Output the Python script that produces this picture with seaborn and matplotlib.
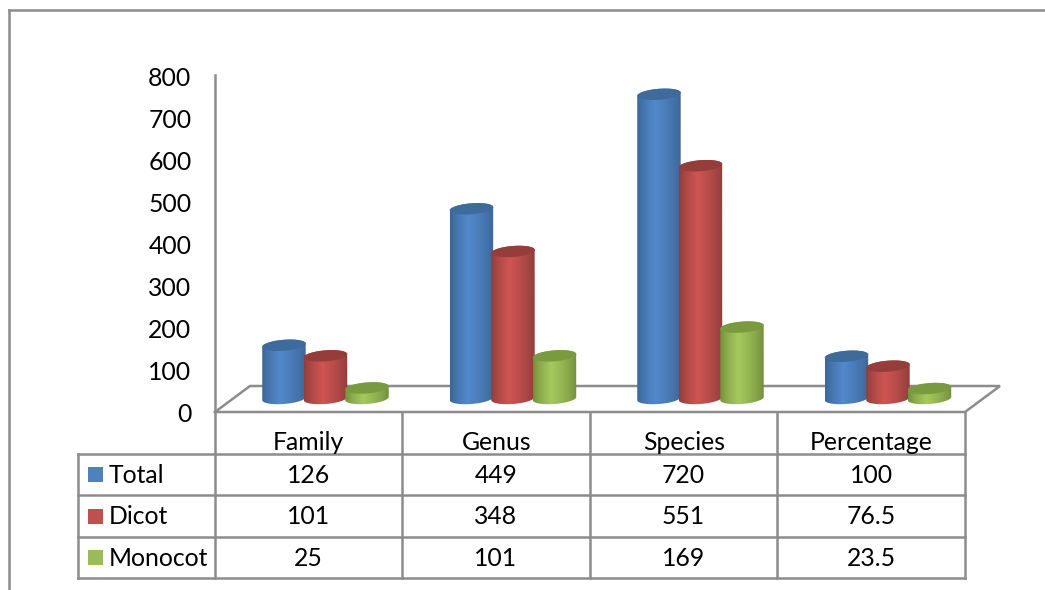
import numpy as np
import pandas as pd
import matplotlib
matplotlib.use("Agg")
import matplotlib.pyplot as plt
from matplotlib.colors import to_rgb
from matplotlib.path import Path
from matplotlib.patches import PathPatch
from matplotlib.transforms import Affine2D
import seaborn as sns

categories = ["Family", "Genus", "Species", "Percentage"]
series_names = ["Total", "Dicot", "Monocot"]
total = [126, 449, 720, 100]
dicot = [101, 348, 551, 76.5]
monocot = [25, 101, 169, 23.5]
table_labels = [["126", "449", "720", "100"],
                ["101", "348", "551", "76.5"],
                ["25", "101", "169", "23.5"]]
y_ticks = [0, 100, 200, 300, 400, 500, 600, 700, 800]

W, H = 1045, 590
GREY = "#8c8c8c"
FONT = "Lato"
FS = 17.8

# flat, edge, centre and cap tones for each series
tones = {
    "Total": ("#4f81bd", "#3b6494", "#5289cc", "#3f6a9c"),
    "Dicot": ("#c0504d", "#8e3c3a", "#cf5553", "#943d3b"),
    "Monocot": ("#9bbb59", "#708d3a", "#a6c95e", "#7a9a40"),
}

sns.set_theme(style="white")
plt.rcParams["font.family"] = FONT

fig = plt.figure(figsize=(W / 100, H / 100), dpi=100, facecolor="white")


def px_axes(left, top, right, bottom):
    return fig.add_axes([left / W, 1 - bottom / H, (right - left) / W, (bottom - top) / H])


# page layer in pixel units: frame, floor and table rules
page = px_axes(0, 0, W, H)
page.set_xlim(0, W)
page.set_ylim(H, 0)
page.axis("off")


def rule(xs, ys, lw=1.8):
    page.plot(xs, ys, color=GREY, lw=lw, solid_capstyle="projecting", solid_joinstyle="miter")


rule([9, 9], [590, 10])
rule([9, 1045], [10, 10])
rule([215, 250, 1000, 965, 215], [412, 386, 386, 412, 412])

col_x = [215, 402, 590, 777, 965]
row_y = [412, 454, 495, 537, 578]
for x in col_x:
    rule([x, x], [row_y[0], row_y[-1]])
rule([78, 78], [row_y[1], row_y[-1]])
for y in row_y[1:]:
    rule([78, 965], [y, y])

for r, name in enumerate(series_names):
    yc = (row_y[r + 1] + row_y[r + 2]) / 2
    page.fill([88, 103, 103, 88], [yc - 7.5, yc - 7.5, yc + 7.5, yc + 7.5], color=tones[name][0], lw=0)
    page.text(109, yc + 1, name, va="center", ha="left", fontsize=FS, color="black", family=FONT)
    for c in range(4):
        xc = (col_x[c] + col_x[c + 1]) / 2
        page.text(xc, yc + 1, table_labels[r][c], va="center", ha="center", fontsize=FS, color="black", family=FONT)

# value axis on the front wall of the plot box
axis_left, axis_right, axis_top, axis_bottom = 215, 965, 75, 411
value_ax = px_axes(axis_left, axis_top, axis_right, axis_bottom)
value_ax.patch.set_alpha(0)
value_ax.set_xlim(-0.5, 3.5)
value_ax.set_ylim(0, 800)
value_ax.set_yticks(y_ticks)
value_ax.set_xticks(range(4))
value_ax.set_xticklabels(categories)
value_ax.tick_params(axis="both", length=0, labelsize=FS, labelcolor="black")
value_ax.tick_params(axis="y", pad=17)
value_ax.tick_params(axis="x", pad=14.5)
for side in ["top", "right", "bottom"]:
    value_ax.spines[side].set_visible(False)
value_ax.spines["left"].set_color(GREY)
value_ax.spines["left"].set_linewidth(1.8)
for label in value_ax.get_yticklabels():
    label.set_transform(label.get_transform() + Affine2D().translate(0, -1))

# columns sit on the floor, set back from the front wall
shift_x, shift_y = 16.75, 12.5
bar_top = axis_top - shift_y - 2
bar_ax = px_axes(axis_left + shift_x, bar_top, axis_right + shift_x, axis_bottom - shift_y)
bar_ax.patch.set_alpha(0)

frame = pd.DataFrame({
    "category": categories * 3,
    "series": [n for n in series_names for _ in categories],
    "value": total + dicot + monocot,
})
sns.barplot(data=frame, x="category", y="value", hue="series", order=categories, hue_order=series_names,
            palette=[tones[n][0] for n in series_names], width=0.664, gap=0, saturation=1,
            legend=False, ax=bar_ax)
bar_ax.set_xlim(-0.5, 3.5)
bar_ax.set_ylim(0, 800)
bar_ax.axis("off")

ux = (axis_right - axis_left) / 4.0                   # pixels per category
uy = (axis_bottom - shift_y - bar_top) / 800.0        # pixels per value unit
half_w = 43.5 / 2 / ux
ry = 5.5 / uy
tilt = 0.075 * ux / uy  # slope of the cap ellipses, in data units


def ring(cx, cy, start, stop):
    t = np.linspace(start, stop, 200)
    x = cx + half_w * np.cos(t)
    y = cy + ry * np.sin(t) + tilt * (x - cx)
    return np.column_stack([x, y])


def shade(edge, mid):
    a = np.array(to_rgb(edge))
    b = np.array(to_rgb(mid))
    u = np.linspace(0, 1, 128)
    w = np.where(u < 0.42, u / 0.42, (1 - u) / 0.58) ** 0.75
    return (a + (b - a) * w[:, None])[None, :, :]


# seaborn stores the bars series by series, four per series
bars = list(bar_ax.patches)[:12]
for i, b in enumerate(bars):
    name = series_names[i // 4]
    _, edge, mid, cap = tones[name]
    cx = b.get_x() + b.get_width() / 2
    h = b.get_height()
    b.set_alpha(0)
    z = 3 + 0.1 * (i // 4) + (i % 4)
    # cylinder silhouette: lower half of the base ring, upper half of the top ring
    outline = np.vstack([ring(cx, 0, np.pi, 2 * np.pi), ring(cx, h, 0, np.pi)])
    body = PathPatch(Path(np.vstack([outline, outline[:1]])), transform=bar_ax.transData, fc="none", ec="none")
    body.set_clip_on(False)
    bar_ax.add_patch(body)
    img = bar_ax.imshow(shade(edge, mid), aspect="auto", interpolation="bilinear",
                        extent=(cx - half_w, cx + half_w, -40, h + 40), zorder=z)
    img.set_clip_box(fig.bbox)
    img.set_clip_path(body)
    top = PathPatch(Path(ring(cx, h, 0, 2 * np.pi)), fc=cap, ec="none", zorder=z + 0.01, clip_on=False)
    bar_ax.add_patch(top)
bar_ax.set_xlim(-0.5, 3.5)
bar_ax.set_ylim(0, 800)

fig.savefig("out.png", dpi=100, facecolor="white")
